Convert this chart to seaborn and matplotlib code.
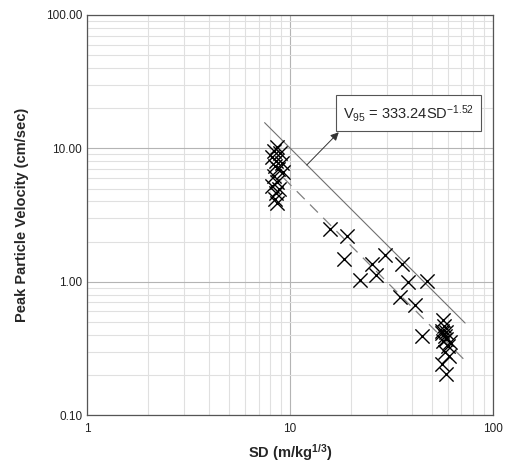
import numpy as np
import pandas as pd
import matplotlib
matplotlib.use('Agg')
import matplotlib.pyplot as plt
import seaborn as sns
from matplotlib.ticker import FixedLocator, LogLocator, NullFormatter

# scaled distance (m/kg^1/3) and peak particle velocity (cm/sec)
sd_near = [8.6, 8.3, 8.9, 8.2, 8.5, 9.1, 8.4, 8.7, 9.2, 8.3, 8.6, 8.2, 8.8, 8.5, 8.4, 8.6]
ppv_near = [10.3, 9.6, 9.2, 8.6, 8.0, 7.8, 7.4, 7.0, 6.7, 6.2, 5.6, 5.2, 5.0, 4.6, 4.2, 3.9]

sd_mid = [15.7, 19.2, 18.4, 22.1, 25.3, 26.7, 29.4, 35.5, 38.3, 47.5, 34.8, 41.3, 45.0]
ppv_mid = [2.5, 2.2, 1.47, 1.03, 1.37, 1.12, 1.6, 1.37, 1.0, 1.02, 0.77, 0.67, 0.39]

sd_far = [56.7, 57.5, 55.9, 58.0, 59.0, 57.0, 61.4, 60.0, 58.0, 60.5, 55.9, 58.7, 56.0, 58.5]
ppv_far = [0.52, 0.47, 0.41, 0.39, 0.37, 0.36, 0.355, 0.33, 0.30, 0.28, 0.24, 0.205, 0.43, 0.42]

# fitted lines: V = k * SD^n
k95, n95 = 333.24, -1.52      # 95% line
k50, n50 = 182.0, -1.53       # mean line (dashed)
sd95_range = [7.5, 73.0]
sd50_range = [9.3, 73.0]

y_ticks = [0.1, 1, 10, 100]
y_labels = ['0.10', '1.00', '10.00', '100.00']
x_ticks = [1, 10, 100]
x_labels = ['1', '10', '100']

df = pd.DataFrame({'SD': sd_near + sd_mid + sd_far,
                   'PPV': ppv_near + ppv_mid + ppv_far})

sns.set_style('white')
plt.rcParams['font.family'] = ['Liberation Sans', 'DejaVu Sans']
plt.rcParams['mathtext.fontset'] = 'custom'
plt.rcParams['mathtext.rm'] = 'Liberation Sans'
plt.rcParams['mathtext.it'] = 'Liberation Sans'
plt.rcParams['mathtext.bf'] = 'Liberation Sans:bold'

fig = plt.figure(figsize=(5.06, 4.67), dpi=100)
ax = fig.add_axes([0.172, 0.111, 0.802, 0.857])
ax.set_xscale('log')
ax.set_yscale('log')
ax.set_xlim(1, 100)
ax.set_ylim(0.1, 100)

#grid
ax.grid(which='major', color='#b4b4b4', linewidth=0.8)
ax.grid(which='minor', color='#e0e0e0', linewidth=0.8)
ax.set_axisbelow(True)

sns.scatterplot(data=df, x='SD', y='PPV', marker='x', s=105, color='black',
                linewidth=1.0, ax=ax, zorder=3)

x95 = np.geomspace(sd95_range[0], sd95_range[1], 50)
sns.lineplot(x=x95, y=k95 * x95 ** n95, color='#707070', linewidth=0.8, ax=ax)
x50 = np.geomspace(sd50_range[0], sd50_range[1], 50)
ax.plot(x50, k50 * x50 ** n50, color='#808080', linewidth=0.9, dashes=(9, 6))

# label box and arrow
ax.annotate('', xy=(17.4, 13.2), xytext=(12.1, 7.5),
            arrowprops=dict(arrowstyle='-|>', color='#333333', lw=0.7,
                            mutation_scale=12, shrinkA=0, shrinkB=0))
ax.text(38.5, 18.4, r'V$_{\mathrm{95}}$ = 333.24SD$^{\mathrm{-1.52}}$', fontsize=10.5,
        ha='center', va='center', zorder=5,
        bbox=dict(boxstyle='square,pad=0.5', facecolor='white',
                  edgecolor='#555555', linewidth=0.8))

ax.yaxis.set_major_locator(FixedLocator(y_ticks))
ax.set_yticklabels(y_labels)
ax.xaxis.set_major_locator(FixedLocator(x_ticks))
ax.set_xticklabels(x_labels)
ax.yaxis.set_minor_locator(LogLocator(base=10, subs=np.arange(2, 10)))
ax.xaxis.set_minor_locator(LogLocator(base=10, subs=np.arange(2, 10)))
ax.xaxis.set_minor_formatter(NullFormatter())
ax.yaxis.set_minor_formatter(NullFormatter())
ax.tick_params(which='major', direction='in', length=12, width=0.8,
               color='#555555', labelsize=8.5, labelcolor='#222222')
ax.tick_params(which='minor', direction='in', length=6, width=0.8, color='#777777')
ax.tick_params(axis='x', which='major', pad=6)

for s in ax.spines.values():
    s.set_color('#555555')
    s.set_linewidth(0.9)

ax.set_xlabel('SD (m/kg$^{\\mathbf{1/3}}$)', fontsize=10.5, fontweight='bold', labelpad=5)
ax.set_ylabel('Peak Particle Velocity (cm/sec)', fontsize=10.5, fontweight='bold', labelpad=12)

fig.savefig('out.png', dpi=100)
